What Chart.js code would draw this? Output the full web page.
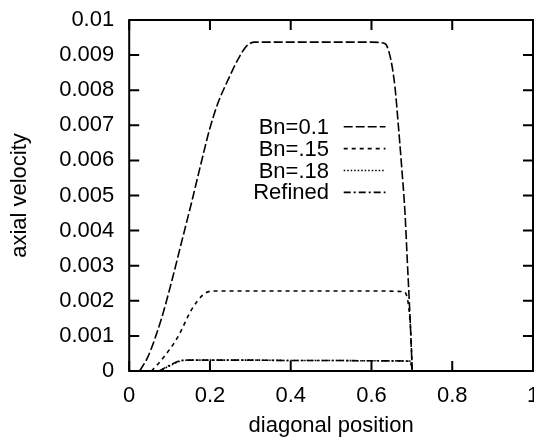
<!DOCTYPE html>
<html>
<head>
<meta charset="utf-8">
<script src="https://cdn.jsdelivr.net/npm/chart.js@4.4.0/dist/chart.umd.min.js"></script>
<style>
  body { margin: 0; background: #fff; }
  canvas { display: block; }
</style>
</head>
<body>
<canvas id="myChart" width="534" height="446"></canvas>
<script>
// values
const xBn01 = [0.026, 0.0465, 0.079, 0.104, 0.129, 0.154, 0.178, 0.199, 0.22, 0.245, 0.269, 0.29, 0.311, 0.4, 0.5, 0.6, 0.633, 0.646, 0.658, 0.666, 0.674, 0.683, 0.689, 0.695, 0.701];
const yBn01 = [0, 0.00041, 0.00146, 0.0025, 0.00364, 0.00478, 0.00592, 0.00688, 0.00764, 0.0083, 0.00887, 0.00925, 0.00937, 0.00937, 0.00937, 0.00937, 0.00933, 0.00897, 0.00811, 0.00707, 0.00593, 0.0045, 0.00307, 0.00165, 0];

const xBn15 = [0.055, 0.079, 0.121, 0.154, 0.183, 0.207, 0.3, 0.4, 0.5, 0.6, 0.679, 0.691, 0.697, 0.701];
const yBn15 = [0, 0.0003, 0.00098, 0.00174, 0.00217, 0.00228, 0.00228, 0.00228, 0.00228, 0.00228, 0.00226, 0.00193, 0.00117, 0];

const xBn18 = [0.075, 0.104, 0.129, 0.15, 0.2, 0.3, 0.4, 0.5, 0.6, 0.695, 0.701];
const yBn18 = [0, 0.00017, 0.00029, 0.00031, 0.00031, 0.00031, 0.0003, 0.0003, 0.00029, 0.00028, 0];

const xRefined = [0.074, 0.103, 0.128, 0.15, 0.2, 0.3, 0.4, 0.5, 0.6, 0.696, 0.702];
const yRefined = [0, 0.00018, 0.0003, 0.00031, 0.00031, 0.00031, 0.0003, 0.0003, 0.00029, 0.00028, 0];

const seriesLabels = ["Bn=0.1", "Bn=.15", "Bn=.18", "Refined"];
const xTicks = [0, 0.2, 0.4, 0.6, 0.8, 1];
const yTicks = [0, 0.001, 0.002, 0.003, 0.004, 0.005, 0.006, 0.007, 0.008, 0.009, 0.01];

const FONT = "'Liberation Sans', Arial, Helvetica, sans-serif";

function pts(xs, ys) {
  return xs.map((x, i) => ({ x: x, y: ys[i] }));
}

function line(label, xs, ys, dash) {
  return {
    label: label,
    data: pts(xs, ys),
    borderColor: "#000",
    borderWidth: 1.6,
    borderDash: dash,
    pointRadius: 0,
    fill: false,
    cubicInterpolationMode: "monotone",
  };
}

// gnuplot style frame, inward ticks on all sides, key inside the plot
const framePlugin = {
  id: "frame",
  afterDraw(chart) {
    const ctx = chart.ctx;
    const a = chart.chartArea;
    const sx = chart.scales.x;
    const sy = chart.scales.y;
    ctx.save();
    ctx.strokeStyle = "#000";
    ctx.lineWidth = 2;
    ctx.setLineDash([]);
    ctx.strokeRect(a.left, a.top, a.right - a.left, a.bottom - a.top);
    ctx.beginPath();
    sx.ticks.forEach((t) => {
      const p = sx.getPixelForValue(t.value);
      ctx.moveTo(p, a.bottom); ctx.lineTo(p, a.bottom - 10);
      ctx.moveTo(p, a.top); ctx.lineTo(p, a.top + 10);
    });
    sy.ticks.forEach((t) => {
      const p = sy.getPixelForValue(t.value);
      ctx.moveTo(a.left, p); ctx.lineTo(a.left + 10, p);
      ctx.moveTo(a.right, p); ctx.lineTo(a.right - 10, p);
    });
    ctx.stroke();

    // key
    ctx.font = "22px " + FONT;
    ctx.fillStyle = "#000";
    ctx.textAlign = "right";
    ctx.textBaseline = "middle";
    chart.data.datasets.forEach((ds, i) => {
      const yy = 126.7 + i * 21.9;
      ctx.fillText(ds.label, 329, yy + 1);
      ctx.beginPath();
      ctx.lineWidth = 1.6;
      ctx.setLineDash(ds.borderDash);
      ctx.moveTo(343.7, yy);
      ctx.lineTo(385.5, yy);
      ctx.stroke();
    });
    ctx.restore();
  },
};

const ctx = document.getElementById("myChart").getContext("2d");

const config = {
  type: "line",
  data: {
    datasets: [
      line(seriesLabels[0], xBn01, yBn01, [9, 3]),
      line(seriesLabels[1], xBn15, yBn15, [4, 4]),
      line(seriesLabels[2], xBn18, yBn18, [1.5, 2]),
      line(seriesLabels[3], xRefined, yRefined, [7, 3, 2, 3]),
    ],
  },
  options: {
    responsive: false,
    animation: false,
    layout: { padding: { top: 20, right: 1, left: 0, bottom: 0 } },
    plugins: {
      legend: { display: false },
      tooltip: { enabled: false },
    },
    scales: {
      x: {
        type: "linear",
        min: 0,
        max: 1,
        afterBuildTicks: (scale) => {
          scale.ticks = xTicks.map((v) => ({ value: v }));
        },
        afterFit: (scale) => {
          scale.height = 75;
          scale.paddingLeft = 0;
          scale.paddingRight = 0;
        },
        grid: { display: false, drawTicks: false },
        border: { display: false },
        ticks: {
          color: "#000",
          padding: 12,
          maxRotation: 0,
          font: { family: FONT, size: 22 },
          callback: (value) => String(parseFloat(value.toFixed(1))),
        },
        title: {
          display: true,
          text: "diagonal position",
          color: "#000",
          font: { family: FONT, size: 22 },
          padding: { top: 0, bottom: 7 },
        },
      },
      y: {
        type: "linear",
        min: 0,
        max: 0.01,
        afterBuildTicks: (scale) => {
          scale.ticks = yTicks.map((v) => ({ value: v }));
        },
        afterFit: (scale) => {
          scale.width = 129.2;
          scale.paddingTop = 0;
          scale.paddingBottom = 0;
        },
        grid: { display: false, drawTicks: false },
        border: { display: false },
        ticks: {
          color: "#000",
          padding: 15,
          font: { family: FONT, size: 22 },
          callback: (value) => String(parseFloat(value.toFixed(3))),
        },
        title: {
          display: true,
          text: "axial velocity",
          color: "#000",
          font: { family: FONT, size: 22 },
          padding: { top: 7, bottom: 0 },
        },
      },
    },
  },
  plugins: [framePlugin],
};

const myChart = new Chart(ctx, config);
</script>
</body>
</html>
